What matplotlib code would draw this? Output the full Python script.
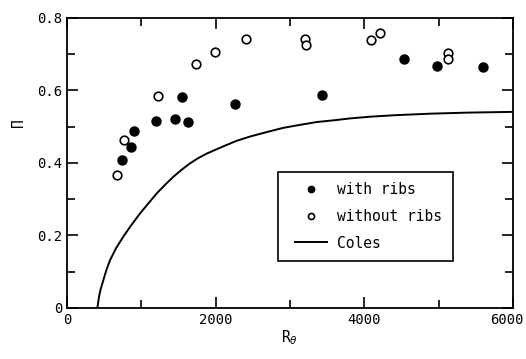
import numpy as np
import matplotlib
matplotlib.use('Agg')
import matplotlib.pyplot as plt
from matplotlib.ticker import MultipleLocator
from matplotlib.legend_handler import HandlerLine2D
from matplotlib.transforms import ScaledTranslation

# with ribs (filled circles)
r_ribs = [736, 857, 902, 1198, 1454, 1544, 1624, 2265, 3436, 4536, 4971, 5599]
pi_ribs = [0.408, 0.443, 0.489, 0.515, 0.520, 0.583, 0.512, 0.564, 0.588, 0.686, 0.667, 0.666]

# without ribs (open circles)
r_noribs = [677, 771, 1229, 1732, 1992, 2405, 3199, 3221, 4096, 4217, 5128, 5119]
pi_noribs = [0.367, 0.463, 0.584, 0.672, 0.707, 0.741, 0.741, 0.726, 0.739, 0.759, 0.704, 0.687]

# Coles curve
r_coles = [408, 430, 450, 489, 530, 579, 660, 758, 870, 983, 1100, 1207, 1320, 1431,
           1540, 1655, 1770, 1880, 1970, 2104, 2280, 2463, 2700, 2911, 3130, 3361,
           3600, 3809, 4100, 4428, 4883, 5400, 6000]
pi_coles = [0.0, 0.030, 0.050, 0.077, 0.105, 0.132, 0.165, 0.197, 0.230, 0.261, 0.290,
            0.316, 0.340, 0.362, 0.381, 0.399, 0.414, 0.426, 0.434, 0.446, 0.461,
            0.473, 0.486, 0.497, 0.505, 0.513, 0.518, 0.523, 0.528, 0.532, 0.536,
            0.539, 0.541]

xticks = [0, 2000, 4000, 6000]
yticks = [0, 0.2, 0.4, 0.6, 0.8]
ytick_labels = ['0', '0.2', '0.4', '0.6', '0.8']

plt.rcParams['font.family'] = ['DejaVu Sans Mono', 'DejaVu Sans']

fig = plt.figure(figsize=(5.26, 3.59), dpi=100)
ax = fig.add_axes([0.1274, 0.1421, 0.8479, 0.8078])

ax.plot(r_coles, pi_coles, color='black', lw=1.4, label='Coles', zorder=2)
ax.plot(r_ribs, pi_ribs, 'o', color='black', ms=6.5, ls='none', label='with ribs', zorder=3)
ax.plot(r_noribs, pi_noribs, 'o', mfc='white', mec='black', mew=1.2, ms=6.2, ls='none',
        label='without ribs', zorder=3)

ax.set_xlim(0, 6000)
ax.set_ylim(0, 0.8)
ax.set_xticks(xticks)
ax.xaxis.set_minor_locator(MultipleLocator(1000))
ax.yaxis.set_minor_locator(MultipleLocator(0.1))
ax.set_yticks(yticks)
ax.set_yticklabels(ytick_labels)
ax.tick_params(which='both', direction='in', top=True, right=True, labelsize=10,
               width=1.2)
ax.tick_params(which='major', length=8)
ax.tick_params(which='minor', length=5.5)
for s in ax.spines.values():
    s.set_linewidth(1.3)

ax.set_xlabel(r'R$_\theta$', fontsize=10.5, labelpad=1)
ax.set_ylabel('Π', fontsize=10.5)
ax.yaxis.set_label_coords(-0.092, 0.638)

h, l = ax.get_legend_handles_labels()
order = [1, 2, 0]
hm = HandlerLine2D(xpad=0.48)
leg = ax.legend([h[i] for i in order], [l[i] for i in order],
                loc='upper left', bbox_to_anchor=(0.473, 0.469), borderaxespad=0,
                fancybox=False, edgecolor='black', framealpha=1,
                fontsize=10.5, markerscale=0.7, handlelength=2.68,
                borderpad=0.7, labelspacing=0.8, handletextpad=0.69,
                handler_map={h[i]: hm for i in order})
leg.get_frame().set_linewidth(1.2)

# last x label sits a little left of its tick in the original
fig.canvas.draw()
for lab in ax.get_xticklabels():
    if lab.get_text() == '6000':
        lab.set_transform(lab.get_transform()
                          + ScaledTranslation(-6 / 100, 0, fig.dpi_scale_trans))

fig.savefig('out.png', dpi=100)
